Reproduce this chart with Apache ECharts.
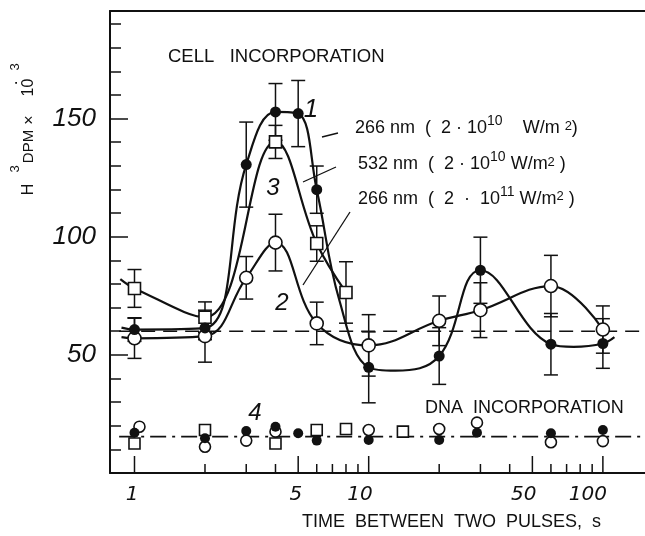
<!DOCTYPE html>
<html><head><meta charset="utf-8">
<script src="https://cdn.jsdelivr.net/npm/echarts@6/dist/echarts.min.js"></script>
<style>html,body{margin:0;padding:0;background:#fff}#c{width:645px;height:536px}</style>
</head><body><div id="c"></div>
<script>
// ---------- data ----------
// Cell incorporation, measured points (x = seconds between pulses)
const cellX1 = [1, 2, 3, 4, 5, 6, 10, 20, 30, 60, 100];           // curve 1, filled circles
const cellY1 = [60.7, 61.4, 130.5, 152.8, 152.1, 119.9, 44.7, 49.5, 85.8, 54.5, 54.8];
const cellE1 = [5, 5, 18, 12, 14, 10, 15, 12, 14, 13, 10.5];
const cellX2 = [1, 2, 3, 4, 6, 10, 20, 30, 60, 100];              // curve 2, open circles
const cellY2 = [57, 57.9, 82.6, 97.5, 63.3, 54, 64.4, 68.9, 79.1, 60.7];
const cellE2 = [8.5, 11, 9, 12, 9, 13, 10.5, 11.6, 13, 10];
const cellX3 = [1, 2, 4, 6, 8];                                   // curve 3, open squares
const cellY3 = [78.1, 65.9, 140.1, 97.1, 76.4];
const cellE3 = [8, 6.5, 7, 7.5, 13];

const curve1X = [0.88, 1, 2, 3, 4, 5, 6, 7.5, 10, 13, 20, 30, 60, 75, 100, 112];
const curve1Y = [61.5, 60.7, 61.4, 130.5, 152.8, 152.1, 119.9, 73, 44.7, 43.3, 49.5, 85.8, 54.5, 53.4, 54.8, 57.5];
const curve2X = [0.88, 1, 2, 3, 4, 6, 10, 20, 30, 60, 100];
const curve2Y = [57.5, 57, 57.9, 82.6, 97.5, 63.3, 54, 64.4, 68.9, 79.1, 60.7];
const curve3X = [0.87, 1, 2, 4, 6, 8];
const curve3Y = [82, 78.1, 65.9, 140.1, 97.1, 76.4];

// DNA incorporation points
const dnaFilledX = [1, 2, 3, 4, 5, 6, 10, 20, 29, 60, 100];
const dnaFilledY = [17, 14.7, 17.8, 19.6, 16.8, 13.7, 14, 14, 17, 16.8, 18.2];
const dnaOpenX = [1.05, 2, 3, 4, 10, 20, 29, 60, 100];
const dnaOpenY = [19.6, 11.1, 13.7, 17.5, 18.2, 18.6, 21.3, 13, 13.5];
const dnaSquareX = [1, 2, 4, 6, 8, 14];
const dnaSquareY = [12.5, 18.2, 12.5, 18.2, 18.6, 17.5];

// reference levels
const baseLevel = 60;      // dashed control line
const dnaLevel = 15.4;     // dash-dot DNA line
const refSpanX = [0.86, 145];

// axes
const xMin = 0.786, xMax = 151.3;
const yMin = 0, yMax = 195.5;
const xTickMajor = [1, 5, 10, 50, 100];
const xTickLabels = ['1', '5', '10', '50', '100'];
const xTickMinor = [2, 3, 4, 6, 7, 8, 9, 20, 30, 40, 60, 70, 80, 90];
const yLabelValues = [50, 100, 150];

// ---------- chart ----------
const INK = '#111';
const zip = (xs, ys) => xs.map((x, i) => [x, ys[i]]);
const errData = (xs, ys, es) => xs.map((x, i) => [x, ys[i] - es[i], ys[i] + es[i]]);

function errRender(params, api) {
  const x = api.value(0), lo = api.value(1), hi = api.value(2);
  const a = api.coord([x, lo]), b = api.coord([x, hi]);
  const w = 7, st = {stroke: INK, lineWidth: 1.5};
  return {type: 'group', children: [
    {type: 'line', shape: {x1: a[0], y1: a[1], x2: b[0], y2: b[1]}, style: st},
    {type: 'line', shape: {x1: a[0] - w, y1: a[1], x2: a[0] + w, y2: a[1]}, style: st},
    {type: 'line', shape: {x1: b[0] - w, y1: b[1], x2: b[0] + w, y2: b[1]}, style: st}
  ]};
}
function tickRender(len) {
  return function (params, api) {
    const p = api.coord([api.value(0), yMin]);
    return {type: 'line', shape: {x1: p[0], y1: p[1], x2: p[0], y2: p[1] - len},
      style: {stroke: INK, lineWidth: 1.5}};
  };
}
function xLabelRender(params, api) {
  const p = api.coord([api.value(0), yMin]);
  return {type: 'text', x: p[0] + 4, y: p[1] + 22,
    style: {text: xTickLabels[params.dataIndex], align: 'right', textAlign: 'right',
      verticalAlign: 'middle', textVerticalAlign: 'middle',
      fontSize: 20, fontStyle: 'italic', fontFamily: 'DejaVu Sans', fill: INK}};
}

const curveLine = (xs, ys, sm) => ({type: 'line', data: zip(xs, ys), smooth: sm, symbol: 'none',
  lineStyle: {color: INK, width: 2.2}, z: 2, silent: true});
const errSeries = (xs, ys, es) => ({type: 'custom', data: errData(xs, ys, es), renderItem: errRender,
  encode: {x: 0, y: [1, 2]}, z: 3, silent: true});
const filled = (xs, ys, size) => ({type: 'scatter', data: zip(xs, ys), symbol: 'circle', symbolSize: size,
  itemStyle: {color: INK, opacity: 1}, z: 5, silent: true});
const openC = (xs, ys, size) => ({type: 'scatter', data: zip(xs, ys), symbol: 'circle', symbolSize: size,
  itemStyle: {color: '#fff', borderColor: INK, borderWidth: 1.6, opacity: 1}, z: 4, silent: true});
const openS = (xs, ys, size) => ({type: 'scatter', data: zip(xs, ys), symbol: 'rect', symbolSize: size,
  itemStyle: {color: '#fff', borderColor: INK, borderWidth: 1.6, opacity: 1}, z: 4, silent: true});

const T = (text, x, y, size, extra) => Object.assign({type: 'text', x: x, y: y, silent: true,
  style: Object.assign({text: text, fontSize: size, fontFamily: 'Liberation Sans', fill: INK,
    verticalAlign: 'middle', textVerticalAlign: 'middle'}, (extra && extra.style) || {})},
  extra && extra.el || {});
const rot = () => ({el: {rotation: Math.PI / 2}, style: {align: 'center', textAlign: 'center'}});
const ctr = (o) => ({style: Object.assign({align: 'center', textAlign: 'center'}, o || {})});
const richStyles = {
  m: {fontSize: 18, fontFamily: 'Liberation Sans', lineHeight: 28, verticalAlign: 'middle', color: INK},
  s: {fontSize: 14, fontFamily: 'Liberation Sans', verticalAlign: 'middle', padding: [0, 0, 14, 0], color: INK},
  q: {fontSize: 13, fontFamily: 'Liberation Sans', verticalAlign: 'middle', padding: [0, 0, 5, 0], color: INK}
};
const R = (text, x, y) => ({type: 'text', x: x, y: y, silent: true,
  style: {text: text, rich: richStyles, verticalAlign: 'middle', textVerticalAlign: 'middle', fill: INK}});
const L = (x1, y1, x2, y2) => ({type: 'line', silent: true, shape: {x1, y1, x2, y2},
  style: {stroke: INK, lineWidth: 1.3}});

const axisCommon = {splitLine: {show: false}, minorTick: {show: false}, minorSplitLine: {show: false}};
const option = {
  animation: false,
  backgroundColor: '#fff',
  grid: {left: 110, right: 0, top: 11, bottom: 63, containLabel: false},
  xAxis: [
    Object.assign({type: 'log', logBase: 10, min: xMin, max: xMax, position: 'bottom',
      axisLine: {show: true, onZero: false, lineStyle: {color: INK, width: 2}},
      axisTick: {show: false}, axisLabel: {show: false}}, axisCommon),
    Object.assign({type: 'log', logBase: 10, min: xMin, max: xMax, position: 'top',
      axisLine: {show: true, onZero: false, lineStyle: {color: INK, width: 2}},
      axisTick: {show: false}, axisLabel: {show: false}}, axisCommon)
  ],
  yAxis: [
    Object.assign({type: 'value', min: yMin, max: yMax, interval: 10, position: 'left',
      axisLine: {show: true, onZero: false, lineStyle: {color: INK, width: 2}},
      axisTick: {show: true, inside: true, length: 11, lineStyle: {color: INK, width: 1.5}},
      axisLabel: {show: false}}, axisCommon),
    Object.assign({type: 'value', min: yMin, max: yMax, interval: 50, position: 'left',
      axisLine: {show: false, onZero: false},
      axisTick: {show: true, inside: true, length: 18, lineStyle: {color: INK, width: 1.5}},
      axisLabel: {show: true, margin: 14, fontSize: 26, fontStyle: 'italic', fontFamily: 'Liberation Sans',
        color: INK, formatter: v => yLabelValues.indexOf(v) >= 0 ? String(v) : ''}}, axisCommon)
  ],
  series: [
    {type: 'line', data: refSpanX.map(x => [x, baseLevel]), symbol: 'none',
      lineStyle: {color: INK, width: 1.6, type: [14, 8]}, z: 1, silent: true},
    {type: 'line', data: refSpanX.map(x => [x, dnaLevel]), symbol: 'none',
      lineStyle: {color: INK, width: 1.6, type: [16, 6, 3, 6]}, z: 1, silent: true},
    curveLine(curve1X, curve1Y, 0.4),
    curveLine(curve2X, curve2Y, 0.4),
    curveLine(curve3X, curve3Y, 0.4),
    errSeries(cellX1, cellY1, cellE1),
    errSeries(cellX2, cellY2, cellE2),
    errSeries(cellX3, cellY3, cellE3),
    openS(cellX3, cellY3, 12),
    openC(cellX2, cellY2, 13),
    filled(cellX1, cellY1, 11),
    openS(dnaSquareX, dnaSquareY, 11),
    openC(dnaOpenX, dnaOpenY, 11),
    filled(dnaFilledX, dnaFilledY, 10),
    {type: 'custom', data: xTickMajor.map(v => [v, yMin]), renderItem: tickRender(17), encode: {x: 0, y: 1}, z: 6, silent: true},
    {type: 'custom', data: xTickMinor.map(v => [v, yMin]), renderItem: tickRender(9), encode: {x: 0, y: 1}, z: 6, silent: true},
    {type: 'custom', data: xTickMajor.map(v => [v, yMin]), renderItem: xLabelRender, encode: {x: 0, y: 1}, z: 6, silent: true}
  ],
  graphic: [
    T('CELL   INCORPORATION', 168, 56.5, 18.5),
    T('DNA  INCORPORATION', 425, 408.5, 18),
    T('TIME  BETWEEN  TWO  PULSES,  s', 302, 522, 18),
    R('{m|266 nm  (  2 · 10}{s|10}{m|    W/m }{q|2}{m|)}', 355, 128.5),
    R('{m|532 nm  (  2 · 10}{s|10}{m| W/m}{q|2}{m| )}', 358, 164.5),
    R('{m|266 nm  (  2  ·  10}{s|11}{m| W/m}{q|2}{m| )}', 358, 199),
    // curve numbers
    T('1', 311, 110, 26, ctr({fontStyle: 'italic'})),
    T('3', 273, 188, 24, ctr({fontStyle: 'italic'})),
    T('2', 282, 303, 24, ctr({fontStyle: 'italic'})),
    T('4', 255, 413, 24, ctr({fontStyle: 'italic'})),
    // leader lines
    L(322, 137, 338, 133),
    L(303, 182, 336, 167),
    L(350, 212, 303, 285),
    // y-axis title (rotated)
    T('H', 29, 189.5, 16, rot()),
    T('3', 15, 169, 13, rot()),
    T('DPM', 29, 146.5, 15, rot()),
    T('×', 30, 120, 16, rot()),
    T('·', 16, 83, 17, rot()),
    T('10', 29, 87.5, 16, rot()),
    T('3', 15, 67, 13, rot())
  ]
};
const chart = echarts.init(document.getElementById('c'), null, {renderer: 'canvas'});
chart.setOption(option);
</script>
</body></html>
